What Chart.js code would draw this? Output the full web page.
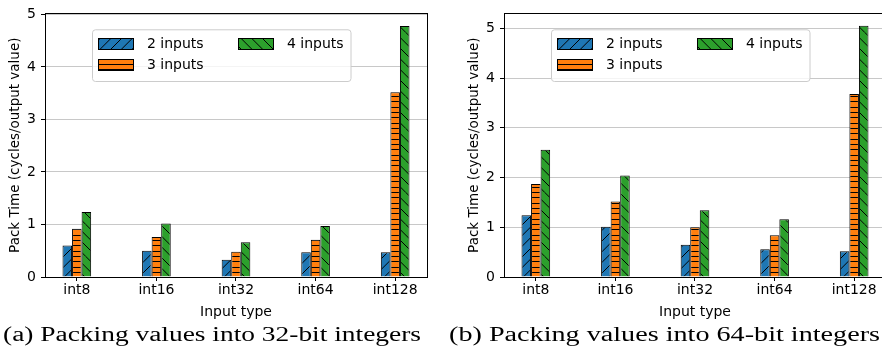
<!DOCTYPE html>
<html><head><meta charset="utf-8">
<script src="https://cdn.jsdelivr.net/npm/chart.js@4"></script>
<style>
html,body{margin:0;padding:0;background:#fff;overflow:hidden;width:882px;height:352px;}
#wrap{position:relative;width:882px;height:352px;overflow:hidden;background:#fff;}
canvas{position:absolute;top:0;}
.cap{position:absolute;top:322px;font-family:'Liberation Serif';font-size:20px;line-height:24px;white-space:nowrap;transform-origin:left top;color:#000;}
</style></head>
<body><div id="wrap">
<canvas id="c1" width="441" height="325" style="left:0px"></canvas>
<canvas id="c2" width="441" height="325" style="left:459px"></canvas>
<div class="cap" id="cap1" style="left:3px">(a) Packing values into 32-bit integers</div>
<div class="cap" id="cap2" style="left:449px">(b) Packing values into 64-bit integers</div>
</div>
<script>
// ---- data ----
const categories = ['int8', 'int16', 'int32', 'int64', 'int128'];
const seriesNames = ['2 inputs', '3 inputs', '4 inputs'];
const yTicks = [0, 1, 2, 3, 4, 5];
// (a) 32-bit
const a_2inputs = [0.60, 0.50, 0.33, 0.47, 0.47];
const a_3inputs = [0.92, 0.76, 0.48, 0.71, 3.52];
const a_4inputs = [1.24, 1.02, 0.66, 0.97, 4.78];
// (b) 64-bit
const b_2inputs = [1.24, 1.01, 0.65, 0.56, 0.52];
const b_3inputs = [1.87, 1.52, 1.00, 0.84, 3.68];
const b_4inputs = [2.56, 2.04, 1.34, 1.16, 5.05];
const xTitle = 'Input type';
const yTitle = 'Pack Time (cycles/output value)';

Chart.defaults.font.family = "'DejaVu Sans', sans-serif";
Chart.defaults.color = '#000';

function hatch(bg, kind) {
  const S = 32, c = document.createElement('canvas');
  c.width = S; c.height = S;
  const g = c.getContext('2d');
  g.fillStyle = bg; g.fillRect(0, 0, S, S);
  g.strokeStyle = '#000'; g.lineWidth = 1;
  g.beginPath();
  if (kind === 'h') {
    for (let k = 0; k < 6; k++) { const y = Math.round(k * S / 6) + 0.5; g.moveTo(0, y); g.lineTo(S, y); }
  } else {
    const d = S / 3;
    for (let k = -4; k <= 8; k++) {
      const c0 = k * d;
      if (kind === '/') { g.moveTo(c0, 0); g.lineTo(c0 - S, S); }
      else { g.moveTo(c0, 0); g.lineTo(c0 + S, S); }
    }
  }
  g.stroke();
  return g.createPattern(c, 'repeat');
}
const colors = ['#1f77b4', '#ff7f0e', '#2ca02c'];
const kinds = ['/', 'h', '\\'];

const framePlugin = {
  id: 'frame',
  afterDatasetsDraw(chart) {
    const { ctx, chartArea: a } = chart;
    ctx.save();
    ctx.strokeStyle = '#000'; ctx.lineWidth = 1;
    ctx.strokeRect(Math.round(a.left) + 0.5, Math.round(a.top) + 0.5,
                   Math.round(a.right - a.left), Math.round(a.bottom - a.top));
    ctx.restore();
  }
};

const legendPlugin = {
  id: 'hatchLegend',
  afterDraw(chart) {
    const { ctx, chartArea: a } = chart;
    const ds = chart.data.datasets;
    const Lx = a.left + 47, Ly = 29.3, W = 258.5, H = 51.7, r = 3;
    ctx.save();
    ctx.beginPath();
    ctx.roundRect(Lx + 0.5, Ly + 0.5, W, H, r);
    ctx.fillStyle = 'rgba(255,255,255,0.8)';
    ctx.fill();
    ctx.strokeStyle = '#cccccc'; ctx.lineWidth = 1;
    ctx.stroke();
    const pos = [[6, 8.4], [6, 30], [146, 8.4]];
    ctx.font = "14px 'DejaVu Sans'";
    ctx.textBaseline = 'middle'; ctx.textAlign = 'left';
    ds.forEach((d, i) => {
      const sx = Math.round(Lx + pos[i][0]) + 0.5, sy = Math.round(Ly + pos[i][1]) + 0.5;
      ctx.fillStyle = d.backgroundColor;
      ctx.fillRect(sx, sy, 35, 11);
      ctx.strokeStyle = '#000';
      ctx.strokeRect(sx, sy, 35, 11);
      ctx.fillStyle = '#000';
      ctx.fillText(d.label, sx + 48.4, sy + 6);
    });
    ctx.restore();
  }
};

function makeChart(id, s2, s3, s4, ymax) {
  const pats = colors.map((c, i) => hatch(c, kinds[i]));
  const series = [s2, s3, s4];
  return new Chart(document.getElementById(id), {
    type: 'bar',
    data: {
      datasets: series.map((vals, i) => ({
        label: seriesNames[i],
        data: vals.map((y, j) => ({ x: j, y: y })),
        backgroundColor: pats[i],
        borderColor: '#000',
        borderWidth: 1,
        categoryPercentage: 0.36,
        barPercentage: 1
      }))
    },
    options: {
      responsive: false, animation: false, devicePixelRatio: 1,
      layout: { padding: { top: 10.5, right: 14, left: 0, bottom: 0 } },
      plugins: { legend: { display: false }, tooltip: { enabled: false } },
      scales: {
        x: {
          type: 'linear', min: -0.4, max: 4.4, offset: false,
          afterBuildTicks: s => { s.ticks = categories.map((_, i) => ({ value: i })); },
          afterFit: s => { s.height = 48; },
          ticks: { callback: v => categories[v], color: '#000', font: { size: 14 }, padding: 1, maxRotation: 0, autoSkip: false },
          grid: { display: true, drawOnChartArea: false, drawTicks: true, tickLength: 4, tickColor: '#000', offset: false },
          border: { display: false },
          title: { display: true, text: xTitle, color: '#000', font: { size: 14 }, padding: { top: 0, bottom: 4 } }
        },
        y: {
          min: 0, max: ymax,
          afterBuildTicks: s => { s.ticks = yTicks.map(v => ({ value: v })); },
          afterFit: s => { s.width = 45; },
          ticks: { color: '#000', font: { size: 14 }, padding: 5, callback: v => String(v) },
          grid: { color: '#c8c8c8', lineWidth: 1, tickColor: '#000', tickLength: 4, drawTicks: true },
          border: { display: false },
          title: { display: true, text: yTitle, color: '#000', font: { size: 13.5 }, padding: { top: 7, bottom: 0 } }
        }
      }
    },
    plugins: [framePlugin, legendPlugin]
  });
}

makeChart('c1', a_2inputs, a_3inputs, a_4inputs, 5.02);
makeChart('c2', b_2inputs, b_3inputs, b_4inputs, 5.30);

function fitCap(id, target) {
  const el = document.getElementById(id);
  const w = el.getBoundingClientRect().width;
  el.style.transform = 'scaleX(' + (target / w) + ')';
}
fitCap('cap1', 418);
fitCap('cap2', 431);
</script>
</body></html>
